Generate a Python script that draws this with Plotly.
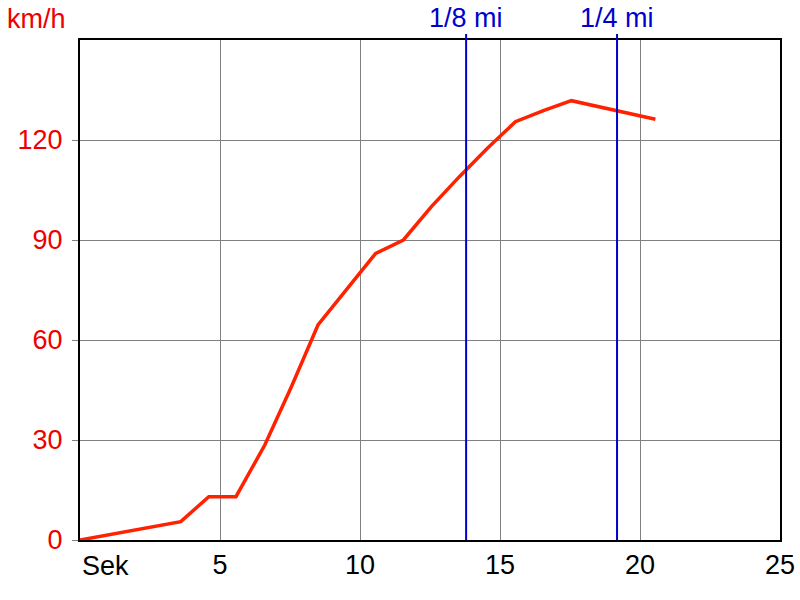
import plotly.graph_objects as go

# Data
time_s = [0, 3.6, 4.6, 5.57, 6.6, 7.55, 8.5, 9.55, 10.56, 11.55, 12.55, 13.55, 14.55, 15.55, 16.55, 17.55, 18.55, 19.55, 20.55]
speed_kmh = [0, 5.5, 13, 13, 28.5, 46, 64.5, 75.5, 86, 90, 100, 109, 117.5, 125.5, 128.8, 131.8, 130, 128, 126.2]

marker_times = [13.79, 19.18]
marker_labels = ["1/8 mi", "1/4 mi"]

x_ticks = [5, 10, 15, 20, 25]
y_ticks = [0, 30, 60, 90, 120]

FONT = "Liberation Sans, Arial, sans-serif"
FS = 27
RED = "#ee0000"
BLUE = "#0000cc"

fig = go.Figure()
fig.add_trace(go.Scatter(x=time_s, y=speed_kmh, mode="lines",
                         line=dict(color="#ff2200", width=3.5), showlegend=False,
                         hoverinfo="skip"))

for t, lab in zip(marker_times, marker_labels):
    fig.add_shape(type="line", xref="x", yref="paper", x0=t, x1=t, y0=0, y1=1.012,
                  line=dict(color=BLUE, width=2))
    fig.add_annotation(x=t, xref="x", y=1 + (40 - 18) / 500.0, yref="paper",
                       yanchor="middle", text=lab, showarrow=False,
                       font=dict(family=FONT, size=FS, color=BLUE))

fig.update_layout(
    width=800, height=600,
    margin=dict(l=80, r=20, t=40, b=60, autoexpand=False),
    paper_bgcolor="white", plot_bgcolor="white",
    font=dict(family=FONT, size=FS),
    xaxis=dict(range=[0, 25], tickvals=x_ticks, ticktext=[str(v) for v in x_ticks],
               showgrid=True, gridcolor="#808080", gridwidth=1,
               showline=True, linecolor="black", linewidth=2, mirror=True,
               ticks="", tickfont=dict(color="black", size=FS, family=FONT),
               zeroline=False, fixedrange=True, automargin=False),
    yaxis=dict(range=[0, 150], tickvals=y_ticks, ticktext=[str(v) for v in y_ticks],
               showgrid=True, gridcolor="#808080", gridwidth=1,
               showline=True, linecolor="black", linewidth=2, mirror=True,
               ticks="outside", ticklen=6, tickcolor="#808080", tickwidth=1,
               ticklabelstandoff=4,
               tickfont=dict(color=RED, size=FS, family=FONT),
               zeroline=False, fixedrange=True, automargin=False),
)

fig.add_annotation(x=0, xref="paper", xanchor="right", xshift=-12, y=1 + (40 - 19) / 500.0,
                   yref="paper", yanchor="middle", text="km/h", showarrow=False,
                   font=dict(family=FONT, size=FS, color=RED))
fig.add_annotation(x=0, xref="x", xanchor="left", xshift=0, y=0, yref="paper",
                   yanchor="top", yshift=-9, text="Sek", showarrow=False,
                   font=dict(family=FONT, size=FS, color="black"))

fig.write_html("out.html", config={"displayModeBar": False},
               post_script="document.body.style.margin='0';document.body.style.overflow='hidden';")
